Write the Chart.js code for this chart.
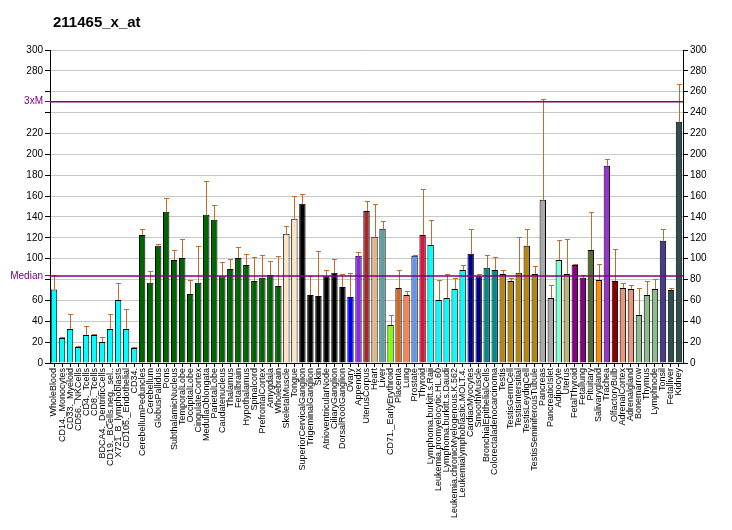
<!DOCTYPE html>
<html>
<head>
<meta charset="utf-8">
<script src="https://cdn.jsdelivr.net/npm/chart.js"></script>
<style>
  html, body { margin: 0; padding: 0; background: #fff; }
  #wrap { width: 732px; height: 530px; }
</style>
</head>
<body>
<div id="wrap"><canvas id="chart" width="732" height="530"></canvas></div>
<script>
const chartTitle = "211465_x_at";

const tissues = [
  "WholeBlood", "CD14._Monocytes", "CD33._Myeloid", "CD56._NKCells", "CD4._Tcells", "CD8._Tcells",
  "BDCA4._DentriticCells", "CD19._BCells.neg._sel..", "X721_B_lymphoblasts", "CD105._Endothelial", "CD34.",
  "CerebellumPeduncles", "Cerebellum", "GlobusPallidus", "Pons", "SubthalamicNucleus", "TemporalLobe",
  "OccipitalLobe", "CingulateCortex", "MedullaOblongata", "ParietalLobe", "Caudatenucleus", "Thalamus",
  "Fetalbrain", "Hypothalamus", "Spinalcord", "PrefrontalCortex", "Amygdala", "Wholebrain",
  "SkeletalMuscle", "Tongue", "SuperiorCervicalGanglion", "TrigeminalGanglion", "Skin",
  "AtrioventricularNode", "CiliaryGanglion", "DorsalRootGanglion", "Ovary", "Appendix", "UterusCorpus",
  "Heart", "Liver", "CD71._EarlyErythroid", "Placenta", "Lung", "Prostate", "Thyroid",
  "Lymphoma.burkitt.s.Raji", "Leukemia.promyelocytic.HL.60", "Lymphoma.burkitt.s.Daudi",
  "Leukemia.chronicMyelogenous.K.562", "Leukemialymphoblastic.MOLT.4.", "CardiacMyocytes", "SmoothMuscle",
  "BronchialEpithelialCells", "Colorectaladenocarcinoma", "Testis", "TestisGermCell", "TestisIntersitial",
  "TestisLeydigCell", "TestisSeminiferousTubule", "Pancreas", "PancreaticIslet", "Adipocyte", "Uterus",
  "FetalThyroid", "Fetallung", "Pituitary", "Salivarygland", "Trachea", "OlfactoryBulb", "AdrenalCortex",
  "Adrenalgland", "Bonemarrow", "Thymus", "Lymphnode", "Tonsil", "Fetalliver", "Kidney"
];

const values = [
  70.4, 24, 32.6, 15.4, 26.9, 26.9, 20.1, 32.6, 60.4, 32.6, 14.4,
  122.8, 76.8, 112.3, 144.9, 98.8, 100.7, 66.2, 76.8, 142, 137.2, 83.2, 90.2, 100.7, 94, 78.7, 81.6, 84.4, 73.9,
  123.8, 138.2,
  152.6, 65.2, 64.3, 83.2, 86.4, 72.9,
  63.3, 102.7, 145.8, 120.9, 128.6, 36.5, 72, 65.2, 102.7, 122.8,
  113.2, 60.4, 62.4, 71, 89.2,
  104.6, 83.2, 91.2, 89.2,
  85.4, 78.7, 86.4, 112.3, 85.4,
  156.4, 62.4, 98.8, 85.4, 94, 81.6, 108.4, 79.6, 189, 78.7, 72, 71, 46.1, 65.2, 71, 117.1, 70, 231.2
];

// upper end of each error bar
const errorTops = [
  84.4, 25.3, 47, 16, 35.5, 27.8, 24.9, 47, 76.8, 51.8, 15.4,
  128.6, 88.3, 114.2, 158.3, 108.4, 119, 79.6, 112.3, 174.6, 151, 96.9, 99.8, 111.3, 104.6, 101.7, 103.6, 97.9, 102.7,
  131.5, 160.2,
  162.2, 83.2, 107.5, 89.2, 99.8, 85.4,
  86.4, 106.5, 155.4, 152.6, 136.2, 46.1, 89.2, 69.1, 103.6, 167,
  137.2, 79.6, 85.4, 81.6, 94,
  128.6, 85.4, 103.6, 101.7,
  89.2, 81.6, 120.9, 128.6, 93.1,
  253.3, 74.8, 118, 119, 95, 84.4, 144.9, 95, 195.7, 109.4, 76.8, 74.8, 72, 78.7, 80.6, 128.6, 72, 267.7
];

const barColors = [
  ...Array(11).fill("#00FFFF"),
  ...Array(18).fill("#006400"),
  "#FFE4C4", "#FFE4C4",
  ...Array(6).fill("#000000"),
  "#0000FF", "#8A2BE2", "#A52A2A", "#DEB887", "#5F9EA0", "#7FFF00", "#D2691E", "#FF7F50", "#6495ED", "#DC143C",
  ...Array(5).fill("#00FFFF"),
  "#00008B", "#00008B", "#008B8B", "#008B8B",
  ...Array(5).fill("#B8860B"),
  "#A9A9A9", "#A9A9A9", "#7FFFD4", "#BDB76B", "#8B008B", "#8B008B", "#556B2F", "#FF8C00", "#9932CC", "#8B0000",
  "#E9967A", "#E9967A", "#8FBC8F", "#8FBC8F", "#8FBC8F", "#483D8B", "#2F4F4F", "#2F4F4F"
];

const median = 83.5;
const threeXM = 250.5;
const leftTicks = [0, 20, 40, 60, 80, median, 100, 120, 140, 160, 180, 200, 220, 240, threeXM, 260, 280, 300];
const hiddenLeft = [80, 240, 260];
const purple = "#800080";
const errColor = "#C8692C";

const overlayPlugin = {
  id: "overlay",
  afterDatasetsDraw(chart) {
    const ctx = chart.ctx;
    const y = chart.scales.y;
    const area = chart.chartArea;
    const meta = chart.getDatasetMeta(0);
    ctx.save();
    ctx.strokeStyle = errColor;
    ctx.lineWidth = 1;
    meta.data.forEach((bar, i) => {
      const x = Math.round(bar.x) + 0.5;
      const y0 = y.getPixelForValue(values[i]);
      const y1 = Math.round(y.getPixelForValue(errorTops[i])) + 0.5;
      ctx.beginPath();
      ctx.moveTo(x, y0);
      ctx.lineTo(x, y1);
      ctx.moveTo(x - 2.5, y1);
      ctx.lineTo(x + 2.5, y1);
      ctx.stroke();
    });
    ctx.strokeStyle = purple;
    ctx.lineWidth = 1.5;
    [median, threeXM].forEach(v => {
      const py = y.getPixelForValue(v);
      ctx.beginPath();
      ctx.moveTo(area.left, py);
      ctx.lineTo(area.right, py);
      ctx.stroke();
    });
    ctx.restore();
  },
  afterDraw(chart) {
    const ctx = chart.ctx;
    ctx.save();
    ctx.fillStyle = "#000";
    ctx.font = "bold 15px 'Liberation Sans', Arial, sans-serif";
    ctx.textBaseline = "alphabetic";
    ctx.fillText(chartTitle, 53, 27);
    ctx.restore();
  }
};

new Chart(document.getElementById("chart"), {
  type: "bar",
  data: {
    labels: tissues,
    datasets: [{
      data: values,
      backgroundColor: barColors,
      borderColor: "#000",
      borderWidth: 1,
      borderSkipped: "bottom",
      barPercentage: 0.8,
      categoryPercentage: 1.0,
      yAxisID: "y"
    }]
  },
  options: {
    responsive: false,
    animation: false,
    devicePixelRatio: 1,
    layout: { padding: { top: 50, left: 0, right: 0, bottom: 0 } },
    plugins: {
      legend: { display: false },
      tooltip: { enabled: false },
      title: { display: false }
    },
    scales: {
      x: {
        type: "category",
        afterFit: s => { s.height = 167; },
        grid: { display: true, offset: false, drawOnChartArea: false, drawTicks: true, tickLength: 4, color: "#000" },
        border: { display: true, color: "#000", width: 1 },
        ticks: {
          autoSkip: false, minRotation: 90, maxRotation: 90, padding: 1,
          color: "#000", font: { family: "'Liberation Sans', Arial, sans-serif", size: 9 }
        }
      },
      y: {
        position: "left",
        min: 0, max: 300,
        afterFit: s => { s.width = 50; },
        afterBuildTicks: axis => { axis.ticks = leftTicks.map(v => ({ value: v })); },
        grid: {
          display: true, drawOnChartArea: false, drawTicks: true, tickLength: 5,
          tickColor: c => (c.tick && (c.tick.value === median || c.tick.value === threeXM)) ? purple : "#000"
        },
        border: { display: true, color: "#000", width: 1 },
        ticks: {
          autoSkip: false, padding: 2,
          font: { family: "'Liberation Sans', Arial, sans-serif", size: 10 },
          color: c => (c.tick && (c.tick.value === median || c.tick.value === threeXM)) ? purple : "#000",
          callback: v => {
            if (v === median) return "Median";
            if (v === threeXM) return "3xM";
            if (hiddenLeft.includes(v)) return "";
            return String(v);
          }
        }
      },
      y2: {
        position: "right",
        min: 0, max: 300,
        afterFit: s => { s.width = 49; },
        grid: { display: true, drawOnChartArea: true, drawTicks: true, tickLength: 5, color: "#C8C8C8", tickColor: "#000" },
        border: { display: true, color: "#000", width: 1 },
        ticks: {
          stepSize: 20, autoSkip: false, padding: 2, color: "#000",
          font: { family: "'Liberation Sans', Arial, sans-serif", size: 10 }
        }
      }
    }
  },
  plugins: [overlayPlugin]
});
</script>
</body>
</html>
